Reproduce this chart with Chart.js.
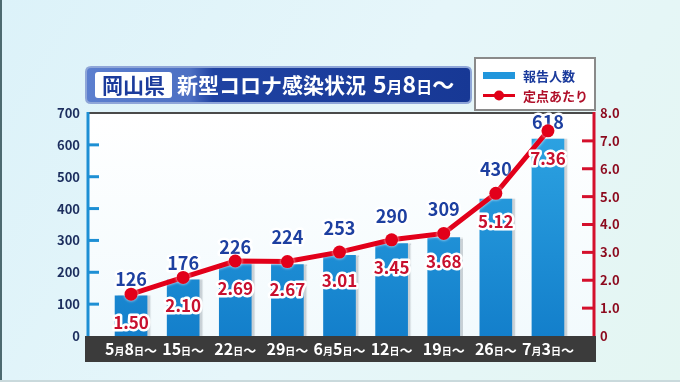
<!DOCTYPE html>
<html lang="ja">
<head>
<meta charset="utf-8">
<script src="https://cdn.jsdelivr.net/npm/chart.js@4"></script>
<style>
  html,body{margin:0;padding:0;background:#e2f4f9;}
  #wrap{width:680px;height:382px;}
</style>
</head>
<body>
<div id="wrap"><canvas id="c" width="680" height="382"></canvas></div>
<script>
// ---- data ----
const categories = ['5月8日～','15日～','22日～','29日～','6月5日～','12日～','19日～','26日～','7月3日～'];
const reportCounts = [126, 176, 226, 224, 253, 290, 309, 430, 618];
const perSite = [1.50, 2.10, 2.69, 2.67, 3.01, 3.45, 3.68, 5.12, 7.36];
const seriesNames = ['報告人数', '定点あたり'];
const leftTicks = [0, 100, 200, 300, 400, 500, 600, 700];
const rightTicks = [0, 1, 2, 3, 4, 5, 6, 7, 8];
const titlePref = '岡山県';
const titleMain = '新型コロナ感染状況';
const titleDate = '5月8日～';

const FONT = '"Noto Sans CJK JP", "Noto Sans", sans-serif';

function drawRuns(ctx, text, cx, baseline, big, small, color, align, waveSize) {
  const runs = text.match(/(\d+|[^\d])/g) || [];
  const parts = runs.map(r => {
    const isNum = /\d/.test(r);
    const isWave = r === '～';
    const size = isNum ? big : (isWave ? (waveSize || Math.round(big * 0.8)) : small);
    ctx.font = 'bold ' + size + 'px ' + FONT;
    return {t: r, size, w: ctx.measureText(r).width};
  });
  const total = parts.reduce((s, p) => s + p.w, 0);
  let x = align === 'left' ? cx : cx - total / 2;
  ctx.fillStyle = color;
  ctx.textAlign = 'left';
  ctx.textBaseline = 'alphabetic';
  parts.forEach(p => {
    ctx.font = 'bold ' + p.size + 'px ' + FONT;
    ctx.fillText(p.t, x, baseline);
    x += p.w;
  });
  return total;
}

function roundRect(ctx, x, y, w, h, r) {
  ctx.beginPath();
  ctx.moveTo(x + r, y);
  ctx.lineTo(x + w - r, y);
  ctx.quadraticCurveTo(x + w, y, x + w, y + r);
  ctx.lineTo(x + w, y + h - r);
  ctx.quadraticCurveTo(x + w, y + h, x + w - r, y + h);
  ctx.lineTo(x + r, y + h);
  ctx.quadraticCurveTo(x, y + h, x, y + h - r);
  ctx.lineTo(x, y + r);
  ctx.quadraticCurveTo(x, y, x + r, y);
  ctx.closePath();
}

function outlinedText(ctx, text, x, y, size, fill, stroke, lw) {
  ctx.font = 'bold ' + size + 'px ' + FONT;
  ctx.textAlign = 'center';
  ctx.textBaseline = 'middle';
  ctx.lineJoin = 'round';
  ctx.strokeStyle = stroke;
  ctx.lineWidth = lw;
  ctx.strokeText(text, x, y);
  ctx.fillStyle = fill;
  ctx.fillText(text, x, y);
}

const deco = {
  id: 'deco',
  beforeDraw(chart) {
    const ctx = chart.ctx;
    const W = chart.width, H = chart.height;
    ctx.save();
    const bg = ctx.createLinearGradient(0, 0, W, H);
    bg.addColorStop(0, '#dcf2f9');
    bg.addColorStop(0.5, '#e6f6fa');
    bg.addColorStop(1, '#e4f6f2');
    ctx.fillStyle = bg;
    ctx.fillRect(0, 0, W, H);
    ctx.fillStyle = '#4d6a70';
    ctx.fillRect(0, 0, 2, H);
    ctx.fillStyle = '#c9d9dc';
    ctx.fillRect(0, H - 2, W, 2);
    ctx.restore();
  },
  beforeDatasetsDraw(chart) {
    const ctx = chart.ctx;
    const y = chart.scales.y, y1 = chart.scales.y1;
    const a = chart.chartArea;
    const L = a.left - 17, R = a.right + 20;
    const T = y.getPixelForValue(700), B = y.getPixelForValue(0);
    ctx.save();
    const pg = ctx.createLinearGradient(0, T, 0, B);
    pg.addColorStop(0, '#ffffff');
    pg.addColorStop(1, '#f2fafd');
    ctx.fillStyle = pg;
    ctx.fillRect(L, T, R - L, B - T);
    ctx.strokeStyle = '#4a4a4a';
    ctx.lineWidth = 2;
    ctx.beginPath(); ctx.moveTo(L, T); ctx.lineTo(R, T); ctx.stroke();
    ctx.strokeStyle = '#1d8fd4';
    ctx.lineWidth = 3;
    ctx.beginPath(); ctx.moveTo(L, T - 1); ctx.lineTo(L, B); ctx.stroke();
    leftTicks.forEach(v => {
      if (v === 0 || v === 700) return;
      const py = y.getPixelForValue(v);
      ctx.beginPath(); ctx.moveTo(L, py); ctx.lineTo(L + 11, py); ctx.stroke();
    });
    ctx.strokeStyle = '#d4102c';
    ctx.beginPath(); ctx.moveTo(R, T - 1); ctx.lineTo(R, B); ctx.stroke();
    rightTicks.forEach(v => {
      if (v === 0 || v === 8) return;
      const py = y1.getPixelForValue(v);
      ctx.beginPath(); ctx.moveTo(R - 12, py); ctx.lineTo(R, py); ctx.stroke();
    });
    ctx.fillStyle = '#3b3b3b';
    ctx.fillRect(L - 3, B, R - L + 5, 26);
    const x = chart.scales.x;
    categories.forEach((c, i) => {
      drawRuns(ctx, c, x.getPixelForValue(i), B + 19, 16, 10, '#ffffff');
    });
    ctx.restore();
  },
  beforeDatasetDraw(chart, args) {
    const ctx = chart.ctx;
    ctx.save();
    if (args.index === 0) {
      ctx.shadowColor = 'rgba(120,130,140,0.35)';
      ctx.shadowOffsetX = 3;
      ctx.shadowOffsetY = 0;
      ctx.shadowBlur = 1;
    } else {
      ctx.shadowColor = 'rgba(255,255,255,0.9)';
      ctx.shadowBlur = 3;
    }
  },
  afterDatasetDraw(chart, args) {
    const ctx = chart.ctx;
    ctx.restore();
    ctx.save();
    const meta = chart.getDatasetMeta(args.index);
    if (args.index === 0) {
      const lineMeta = chart.getDatasetMeta(1);
      meta.data.forEach((el, i) => {
        let ly = el.y - 17;
        const p = lineMeta.data[i];
        // keep the count label clear of the line marker when the marker sits just under it
        if (p && p.y > ly && p.y - ly < 14 && p.y < el.y - 2 && el.y - p.y < 7) ly = p.y - 24;
        outlinedText(ctx, String(reportCounts[i]), el.x, ly, 18, '#1d3fa0', '#ffffff', 5);
      });
    } else {
      meta.data.forEach((el, i) => {
        outlinedText(ctx, perSite[i].toFixed(2), el.x, el.y + 28, 17, '#c8102e', '#ffffff', 5);
      });
    }
    ctx.restore();
  },
  afterDraw(chart) {
    const ctx = chart.ctx;
    ctx.save();
    const tx = 86, ty = 67, tw = 385, th = 36;
    roundRect(ctx, tx, ty, tw, th, 5);
    const tg = ctx.createLinearGradient(tx, 0, tx + tw, 0);
    tg.addColorStop(0, '#5c7fcf');
    tg.addColorStop(0.27, '#4d70c3');
    tg.addColorStop(0.33, '#1f42a2');
    tg.addColorStop(1, '#173895');
    ctx.fillStyle = tg;
    ctx.fill();
    ctx.strokeStyle = '#8fa6d8';
    ctx.lineWidth = 2;
    ctx.stroke();
    roundRect(ctx, 95, 72, 77, 26, 3);
    ctx.fillStyle = '#ffffff';
    ctx.fill();
    ctx.fillStyle = '#1b3b9c';
    ctx.font = 'bold 21px ' + FONT;
    ctx.textAlign = 'center';
    ctx.textBaseline = 'middle';
    ctx.fillText(titlePref, 133.5, 85.5);
    ctx.fillStyle = '#ffffff';
    ctx.font = 'bold 21px ' + FONT;
    ctx.textAlign = 'left';
    ctx.textBaseline = 'alphabetic';
    ctx.fillText(titleMain, 177, 93);
    drawRuns(ctx, titleDate, 373, 93, 23, 16, '#ffffff', 'left', 22);

    const lx = 475, ly = 58, lw = 120, lh = 52;
    ctx.fillStyle = '#ffffff';
    ctx.fillRect(lx, ly, lw, lh);
    ctx.strokeStyle = '#8a8a8a';
    ctx.lineWidth = 2;
    ctx.strokeRect(lx, ly, lw, lh);
    ctx.fillStyle = '#2196dc';
    ctx.fillRect(483, 72, 32, 7);
    ctx.strokeStyle = '#e00018';
    ctx.lineWidth = 3;
    ctx.beginPath(); ctx.moveTo(483, 95.5); ctx.lineTo(515, 95.5); ctx.stroke();
    ctx.fillStyle = '#e00018';
    ctx.beginPath(); ctx.arc(499, 95.5, 5, 0, Math.PI * 2); ctx.fill();
    ctx.font = 'bold 13px ' + FONT;
    ctx.textAlign = 'left';
    ctx.textBaseline = 'middle';
    ctx.fillStyle = '#1b3b9c';
    ctx.fillText(seriesNames[0], 523, 76);
    ctx.fillStyle = '#b0102a';
    ctx.fillText(seriesNames[1], 523, 96);
    ctx.restore();
  }
};

const chart = new Chart(document.getElementById('c'), {
  type: 'bar',
  data: {
    labels: categories,
    datasets: [
      {
        type: 'bar',
        label: seriesNames[0],
        data: reportCounts,
        yAxisID: 'y',
        order: 2,
        barThickness: 32,
        backgroundColor: (c) => {
          const ch = c.chart; const a = ch.chartArea;
          if (!a) return '#1c8cd6';
          const g = ch.ctx.createLinearGradient(0, a.top, 0, a.bottom);
          g.addColorStop(0, '#2fa6e4');
          g.addColorStop(1, '#137fcb');
          return g;
        },
        borderWidth: 0
      },
      {
        type: 'line',
        label: seriesNames[1],
        data: perSite,
        yAxisID: 'y1',
        order: 1,
        borderColor: '#e2001a',
        borderWidth: 5,
        pointRadius: 6.5,
        pointBackgroundColor: '#e2001a',
        pointBorderColor: '#e2001a',
        pointBorderWidth: 0,
        tension: 0,
        fill: false
      }
    ]
  },
  options: {
    responsive: false,
    animation: false,
    layout: { padding: { top: 113, left: 0, right: 0, bottom: 0 } },
    plugins: { legend: { display: false }, title: { display: false }, tooltip: { enabled: false } },
    scales: {
      x: {
        type: 'category',
        offset: true,
        grid: { display: false, drawTicks: false },
        border: { display: false },
        ticks: { display: false },
        afterFit(s) { s.height = 46; }
      },
      y: {
        position: 'left',
        min: 0, max: 700,
        afterBuildTicks(s) { s.ticks = leftTicks.map(v => ({ value: v })); },
        ticks: { padding: 25, color: '#1c2e5e', font: { family: FONT, size: 13, weight: 'bold' } },
        grid: { display: false, drawTicks: false },
        border: { display: false },
        afterFit(s) { s.width = 105; }
      },
      y1: {
        position: 'right',
        min: 0, max: 8,
        afterBuildTicks(s) { s.ticks = rightTicks.map(v => ({ value: v })); },
        ticks: {
          padding: 26, color: '#8c0a1e', font: { family: FONT, size: 13, weight: 'bold' },
          callback: v => v === 0 ? '0' : Number(v).toFixed(1)
        },
        grid: { display: false, drawTicks: false, drawOnChartArea: false },
        border: { display: false },
        afterFit(s) { s.width = 106; }
      }
    }
  },
  plugins: [deco]
});
</script>
</body>
</html>
